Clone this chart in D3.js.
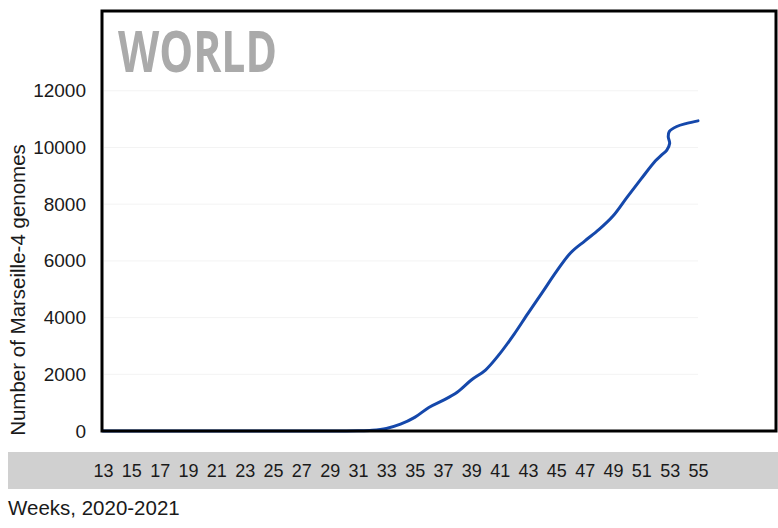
<!DOCTYPE html>
<html>
<head>
<meta charset="utf-8">
<script src="https://cdn.jsdelivr.net/npm/d3@7"></script>
<style>
  html, body { margin: 0; padding: 0; background: #fff; }
  svg { display: block; font-family: "Liberation Sans", Arial, sans-serif; }
</style>
</head>
<body>
<svg id="chart" width="778" height="528"></svg>
<script>
// Cumulative Marseille-4 genomes per epidemiological week (weeks past 53 run into 2021)
const weeks  = [13, 15, 17, 19, 21, 23, 25, 27, 29, 30, 31, 32, 33, 34, 35, 36, 37, 38, 39, 40, 41, 42, 43, 44, 45, 46, 47, 48, 49, 50, 51, 52, 52.4, 52.8, 53.0, 52.9, 52.97, 53.5, 54.2, 55];
const counts = [0, 0, 0, 0, 0, 0, 0, 0, 0, 0, 5, 25, 90, 240, 480, 830, 1080, 1370, 1800, 2150, 2720, 3400, 4150, 4880, 5620, 6280, 6700, 7100, 7580, 8250, 8900, 9530, 9720, 9910, 10150, 10380, 10560, 10740, 10850, 10940];

const weekTicks  = [13, 15, 17, 19, 21, 23, 25, 27, 29, 31, 33, 35, 37, 39, 41, 43, 45, 47, 49, 51, 53, 55];
const countTicks = [0, 2000, 4000, 6000, 8000, 10000, 12000];

const panelTitle = "WORLD";
const yTitle = "Number of Marseille-4 genomes";
const xTitle = "Weeks, 2020-2021";

const svg = d3.select("#chart");

const frame = { left: 102, right: 776, top: 11, bottom: 431 };

const x = d3.scaleLinear().domain([13, 55]).range([103, 698]);
const y = d3.scaleLinear().domain([0, 12000]).range([frame.bottom, 90.8]);

// faint horizontal gridlines
svg.append("g")
  .selectAll("line")
  .data(countTicks.filter(d => d > 0))
  .join("line")
  .attr("x1", frame.left + 2).attr("x2", x(55))
  .attr("y1", d => y(d)).attr("y2", d => y(d))
  .attr("stroke", "#f3f3f3").attr("stroke-width", 1);

// y axis labels
const yAxis = d3.axisLeft(y).tickValues(countTicks).tickSize(0).tickPadding(0).tickFormat(d3.format("d"));
const gy = svg.append("g").attr("transform", "translate(86,0)").call(yAxis);
gy.select(".domain").remove();
gy.selectAll("text").attr("font-size", 19).attr("fill", "#1a1a1a")
  .attr("font-family", "'Liberation Sans', Arial, sans-serif");

// grey band behind week labels
svg.append("rect")
  .attr("x", 8).attr("y", 452).attr("width", 770).attr("height", 37)
  .attr("fill", "#d0d0d0");

const xAxis = d3.axisBottom(x).tickValues(weekTicks).tickSize(0).tickPadding(0).tickFormat(d3.format("d"));
const gx = svg.append("g").attr("transform", "translate(0,464)").call(xAxis);
gx.select(".domain").remove();
gx.selectAll("text").attr("font-size", 18).attr("fill", "#1a1a1a")
  .attr("font-family", "'Liberation Sans', Arial, sans-serif");

// data line
const line = d3.line()
  .x((d, i) => x(weeks[i]))
  .y(d => y(d))
  .curve(d3.curveCatmullRom.alpha(0.5));

svg.append("path")
  .datum(counts)
  .attr("d", line)
  .attr("fill", "none")
  .attr("stroke", "#1548ab")
  .attr("stroke-width", 3)
  .attr("stroke-linecap", "round");

// plot frame
svg.append("rect")
  .attr("x", frame.left).attr("y", frame.top)
  .attr("width", frame.right - frame.left).attr("height", frame.bottom - frame.top)
  .attr("fill", "none").attr("stroke", "#000").attr("stroke-width", 3);

// panel title
svg.append("text")
  .attr("x", 118).attr("y", 72)
  .attr("font-family", "'Open Sans', 'DejaVu Sans', sans-serif")
  .attr("font-weight", 700)
  .attr("font-size", 58)
  .attr("textLength", 159)
  .attr("lengthAdjust", "spacingAndGlyphs")
  .attr("fill", "#aaaaaa")
  .text(panelTitle);

// axis titles
svg.append("text")
  .attr("transform", `translate(25,290) rotate(-90)`)
  .attr("text-anchor", "middle")
  .attr("font-size", 20.5)
  .attr("fill", "#1a1a1a")
  .text(yTitle);

svg.append("text")
  .attr("x", 8).attr("y", 515)
  .attr("font-size", 20.5)
  .attr("fill", "#1a1a1a")
  .text(xTitle);
</script>
</body>
</html>
